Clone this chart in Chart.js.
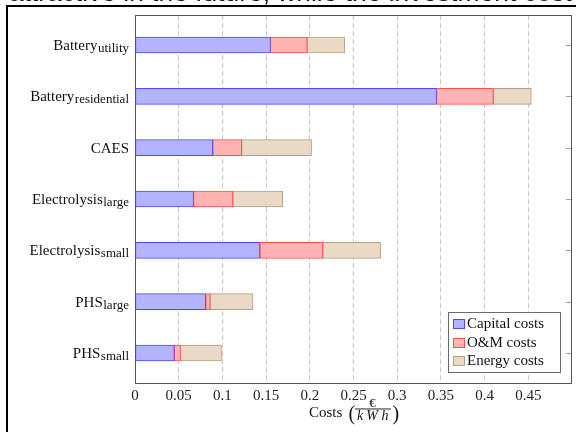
<!DOCTYPE html>
<html>
<head>
<meta charset="utf-8">
<script src="https://cdn.jsdelivr.net/npm/chart.js@4"></script>
<style>
html,body{margin:0;padding:0;background:#fff;}
#wrap{width:576px;height:432px;position:relative;}
</style>
</head>
<body>
<div id="wrap"><canvas id="c" width="576" height="432"></canvas></div>
<script>
// ---- data ----
const categories = ['Battery', 'Battery', 'CAES', 'Electrolysis', 'Electrolysis', 'PHS', 'PHS'];
const subscripts = ['utility', 'residential', '', 'large', 'small', 'large', 'small'];
const capitalCosts = [0.155, 0.345, 0.089, 0.067, 0.143, 0.081, 0.045];
const omCosts = [0.042, 0.065, 0.033, 0.045, 0.072, 0.005, 0.007];
const energyCosts = [0.043, 0.0435, 0.080, 0.057, 0.066, 0.049, 0.047];
const seriesNames = ['Capital costs', 'O&M costs', 'Energy costs'];
const xTickValues = [0, 0.05, 0.1, 0.15, 0.2, 0.25, 0.3, 0.35, 0.4, 0.45, 0.5];
const xTickLabels = ['0', '0.05', '0.1', '0.15', '0.2', '0.25', '0.3', '0.35', '0.4', '0.45', ''];
const topText = 'attractive in the future, while the investment cost';

const SERIF = '"Liberation Serif", "Times New Roman", serif';
const fills = ['#b3b3ff', '#ffb3b3', '#e9d9c5'];
const strokes = ['#4a4aff', '#ff5050', '#b49e86'];

const toPts = arr => arr.map((v, i) => ({x: v, y: i}));

const decor = {
  id: 'decor',
  beforeDraw(chart) {
    const ctx = chart.ctx;
    ctx.save();
    ctx.fillStyle = '#fff';
    ctx.fillRect(0, 0, chart.width, chart.height);
    // cropped text above frame
    ctx.fillStyle = '#111';
    ctx.font = '21px "Liberation Sans", Arial, sans-serif';
    ctx.textBaseline = 'alphabetic';
    ctx.textAlign = 'left';
    const w = ctx.measureText(topText).width;
    const size = 21 * 563 / w;
    ctx.font = size.toFixed(2) + 'px "Liberation Sans", Arial, sans-serif';
    ctx.fillText(topText, 9, 0.5);
    // frame
    ctx.fillStyle = '#000';
    ctx.fillRect(6, 5, 570, 2);
    ctx.fillRect(6, 5, 2, 427);
    ctx.restore();
  },
  afterDraw(chart) {
    const ctx = chart.ctx;
    const a = chart.chartArea;
    const ys = chart.scales.y;
    ctx.save();
    // right tick marks
    ctx.strokeStyle = '#a0a0a0';
    ctx.lineWidth = 1;
    categories.forEach((c, i) => {
      const y = Math.round(ys.getPixelForValue(i)) + 0.5;
      ctx.beginPath();
      ctx.moveTo(a.right - 6, y);
      ctx.lineTo(a.right, y);
      ctx.stroke();
    });
    // chart area border
    ctx.strokeStyle = '#555';
    ctx.lineWidth = 1;
    ctx.strokeRect(Math.round(a.left) + 0.5, Math.round(a.top) + 0.5,
                   Math.round(a.right - a.left) - 1, Math.round(a.bottom - a.top));
    // y labels with subscripts
    ctx.fillStyle = '#111';
    ctx.textBaseline = 'alphabetic';
    ctx.textAlign = 'left';
    categories.forEach((c, i) => {
      const y = ys.getPixelForValue(i);
      const right = a.left - 6;
      ctx.font = '13px ' + SERIF;
      const sw = subscripts[i] ? ctx.measureText(subscripts[i]).width : 0;
      if (subscripts[i]) ctx.fillText(subscripts[i], right - sw, y + 7);
      ctx.font = '15px ' + SERIF;
      const mw = ctx.measureText(c).width;
      ctx.fillText(c, right - sw - mw - (subscripts[i] ? 0.5 : 0), y + 5);
    });
    // axis title: Costs (€ / kWh)
    ctx.textAlign = 'left';
    ctx.font = '15px ' + SERIF;
    ctx.fillText('Costs', 309, 416.5);
    ctx.font = '20px ' + SERIF;
    ctx.fillText('(', 348.5, 420);
    ctx.fillText(')', 392.5, 420);
    ctx.font = '13px ' + SERIF;
    ctx.textAlign = 'center';
    ctx.fillText('€', 372.5, 407);
    ctx.fillRect(355, 408.5, 36, 0.9);
    ctx.font = 'italic 14px ' + SERIF;
    ctx.fillText('k', 360, 419.5);
    ctx.fillText('W', 372, 419.5);
    ctx.fillText('h', 385, 419.5);
    // legend
    const lx = 448.5, ly = 312.5, lw = 112, lh = 60;
    ctx.fillStyle = '#fff';
    ctx.fillRect(lx, ly, lw, lh);
    ctx.strokeStyle = '#6a6a6a';
    ctx.strokeRect(lx, ly, lw, lh);
    const rows = [323.5, 342, 360.5];
    ctx.textAlign = 'left';
    ctx.font = '15px ' + SERIF;
    seriesNames.forEach((n, k) => {
      const cy = rows[k];
      ctx.fillStyle = fills[k];
      ctx.fillRect(453.5, Math.round(cy - 4.5) + 0.5, 11, 9);
      ctx.strokeStyle = strokes[k];
      ctx.strokeRect(453.5, Math.round(cy - 4.5) + 0.5, 11, 9);
      ctx.fillStyle = '#111';
      ctx.fillText(n, 467, cy + 4.5);
    });
    ctx.restore();
  }
};

new Chart(document.getElementById('c'), {
  type: 'bar',
  data: {
    datasets: [
      {label: seriesNames[0], data: toPts(capitalCosts), backgroundColor: fills[0], borderColor: strokes[0]},
      {label: seriesNames[1], data: toPts(omCosts), backgroundColor: fills[1], borderColor: strokes[1]},
      {label: seriesNames[2], data: toPts(energyCosts), backgroundColor: fills[2], borderColor: strokes[2]}
    ].map(d => Object.assign(d, {borderWidth: 1, borderSkipped: false, barThickness: 16}))
  },
  options: {
    indexAxis: 'y',
    responsive: false,
    animation: false,
    events: [],
    layout: {padding: {left: 0, right: 3, top: 15, bottom: 0}},
    plugins: {legend: {display: false}, tooltip: {enabled: false}, title: {display: false}},
    scales: {
      x: {
        type: 'linear', min: 0, max: 0.5, stacked: true, position: 'bottom',
        afterBuildTicks: s => { s.ticks = xTickValues.map(v => ({value: v})); },
        afterFit: s => { s.height = 49; },
        ticks: {
          callback: (v, i) => xTickLabels[i],
          font: {family: SERIF, size: 15}, color: '#222',
          padding: 4, maxRotation: 0, minRotation: 0, autoSkip: false
        },
        grid: {
          drawTicks: false,
          lineWidth: 1,
          color: c => (c.tick && (c.tick.value === 0 || c.tick.value === 0.5)) ? 'rgba(0,0,0,0)' : '#c8c8c8'
        },
        border: {display: false, dash: [5, 3]}
      },
      y: {
        type: 'linear', min: -0.584, max: 6.584, reverse: true, stacked: true, offset: false,
        afterFit: s => { s.width = 135; },
        ticks: {display: false},
        grid: {display: false, offset: false},
        border: {display: false}
      }
    }
  },
  plugins: [decor]
});
</script>
</body>
</html>
